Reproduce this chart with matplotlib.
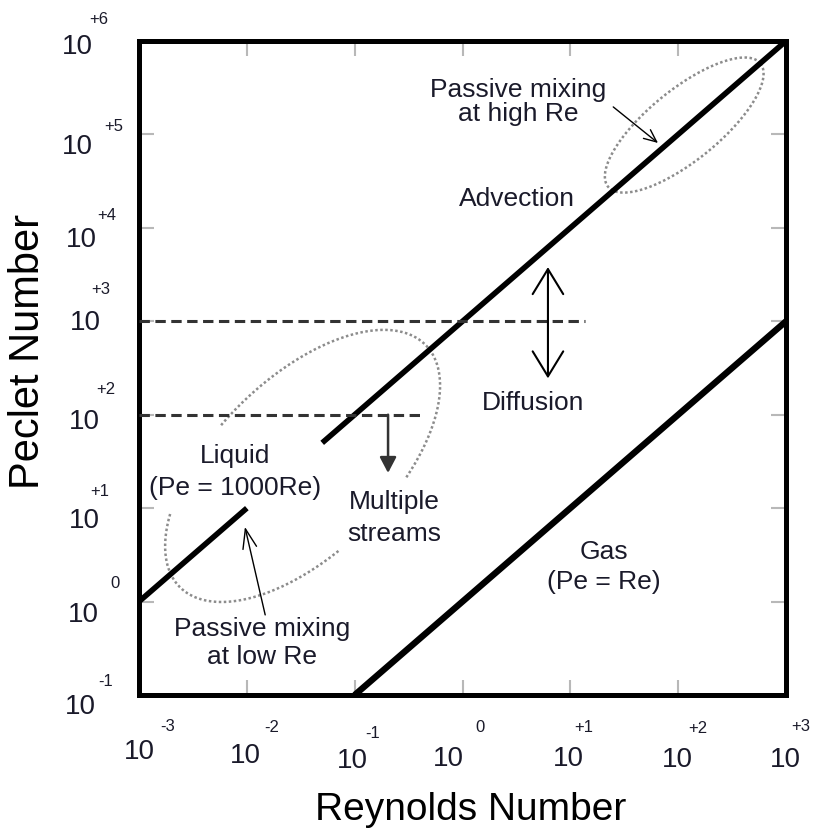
import numpy as np
import matplotlib.pyplot as plt

plt.rcParams['font.family'] = ['Liberation Sans', 'DejaVu Sans']

# decades on both axes
re_exponents = [-3, -2, -1, 0, 1, 2, 3]
re_exp_labels = ['-3', '-2', '-1', '0', '+1', '+2', '+3']
pe_exponents = [-1, 0, 1, 2, 3, 4, 5, 6]
pe_exp_labels = ['-1', '0', '+1', '+2', '+3', '+4', '+5', '+6']

# liquid line, Pe = 1000 Re (broken where the label sits)
liquid_re_low = [1e-3, 1e-2]
liquid_pe_low = [1e0, 1e1]
liquid_re_high = [0.05, 1e3]
liquid_pe_high = [50.0, 1e6]

# gas line, Pe = Re
gas_re = [0.1, 1e3]
gas_pe = [0.1, 1e3]

# dashed Pe levels and where they stop
dash_pe = [1e3, 1e2]
dash_re_end = [13.7, 0.42]

# tick label offsets in pixels: (dx, dy down) of "10" and of the exponent
re_ten_off = [(0, 54), (-1, 58), (-2, 63), (-14, 61), (-2, 61), (-1, 62), (-1, 62)]
re_sup_off = [(29, 30), (25, 31), (18, 37), (18, 31), (13, 31), (20, 32), (15, 30)]
pe_ten_off = [(-59, 9), (-56, 10), (-55, 10), (-55, 4), (-54, -1), (-58, 9), (-62, 10), (-62, 3)]
pe_sup_off = [(-33, -15), (-24, -20), (-39, -18), (-33, -27), (-38, -33), (-32, -14), (-25, -9), (-40, -23)]

TXT = '#1a1a2a'


def dotted_ellipse(ax, center, width, height, angle, arcs):
    # ellipse given in screen pixels around a data point, drawn as dotted arcs
    cx, cy = ax.transData.transform(center)
    th = np.radians(angle)
    for t0, t1 in arcs:
        t = np.radians(np.linspace(t0, t1, 300))
        u = width / 2 * np.cos(t)
        v = height / 2 * np.sin(t)
        px = cx + u * np.cos(th) - v * np.sin(th)
        py = cy + u * np.sin(th) + v * np.cos(th)
        pts = ax.transData.inverted().transform(np.column_stack([px, py]))
        ax.plot(pts[:, 0], pts[:, 1], color='#8c8c8c', lw=1.8, dashes=(1, 1), zorder=2)


fig = plt.figure(figsize=(8.15, 8.32), dpi=100)
ax = fig.add_axes([139 / 815, (832 - 695) / 832, 647 / 815, 654 / 832])
ax.set_xscale('log')
ax.set_yscale('log')
ax.set_xlim(1e-3, 1e3)
ax.set_ylim(1e-1, 1e6)
ax.set_xticks([10.0 ** e for e in re_exponents])
ax.set_yticks([10.0 ** e for e in pe_exponents])
ax.minorticks_off()
ax.tick_params(direction='in', length=11, width=1.5, color='#b8b8b8',
               top=True, right=True, labelbottom=False, labelleft=False)
for s in ax.spines.values():
    s.set_linewidth(3.6)
    s.set_color('black')

# main lines
ax.plot(liquid_re_low, liquid_pe_low, color='black', lw=4, solid_capstyle='butt', zorder=3)
ax.plot(liquid_re_high, liquid_pe_high, color='black', lw=4, solid_capstyle='butt', zorder=3)
ax.plot(gas_re, gas_pe, color='black', lw=4.6, solid_capstyle='butt', zorder=3)
for pe, re_end in zip(dash_pe, dash_re_end):
    ax.plot([1e-3, re_end], [pe, pe], color='#333333', lw=2.2, dashes=(3.4, 1.8), zorder=3)

# dotted regions
dotted_ellipse(ax, (113.8, 1.26e5), 196, 71, 39, [(0, 360)])
dotted_ellipse(ax, (0.0329, 28.3), 345, 175, 44.5, [(138, 259), (292.5, 460.7)])

# arrows
ax.annotate('', xy=(0.204, 23.8), xytext=(0.204, 1e2),
            arrowprops=dict(arrowstyle='-|>,head_length=0.95,head_width=0.5', color='#333333',
                            lw=1.8, shrinkA=0, shrinkB=0, mutation_scale=10))
ax.annotate('', xy=(6.2, 3800), xytext=(6.2, 245),
            arrowprops=dict(arrowstyle='<->,head_length=1.8,head_width=1.1', color='black',
                            lw=1.5, shrinkA=0, shrinkB=0, mutation_scale=10))
ax.annotate('', xy=(65, 8.1e4), xytext=(25, 1.97e5),
            arrowprops=dict(arrowstyle='->,head_length=0.9,head_width=0.4', color='black',
                            lw=1, shrinkA=0, shrinkB=0, mutation_scale=10))
ax.annotate('', xy=(0.0096, 6.3), xytext=(0.0148, 0.72),
            arrowprops=dict(arrowstyle='->,head_length=1.4,head_width=0.5', color='black',
                            lw=1, shrinkA=0, shrinkB=0, mutation_scale=10))

# region labels
ax.text(10 ** 0.516, 10 ** 5.35, 'Passive mixing\nat high Re', ha='center', va='center',
        fontsize=19, color=TXT, linespacing=1.0)
ax.text(10 ** 0.507, 10 ** 4.31, 'Advection', ha='center', va='center', fontsize=19, color=TXT)
ax.text(10 ** 0.655, 10 ** 2.126, 'Diffusion', ha='center', va='center', fontsize=19, color=TXT)
ax.text(10 ** 1.313, 10 ** 0.37, 'Gas\n(Pe = Re)', ha='center', va='center', fontsize=19,
        color=TXT, linespacing=1.35)
ax.text(10 ** -2.11, 10 ** 1.39, 'Liquid\n(Pe = 1000Re)', ha='center', va='center', fontsize=19,
        color=TXT, linespacing=1.4)
ax.text(10 ** -0.635, 10 ** 0.895, 'Multiple\nstreams', ha='center', va='center', fontsize=19,
        color=TXT, linespacing=1.4)
ax.text(10 ** -1.86, 10 ** -0.443, 'Passive mixing\nat low Re', ha='center', va='center',
        fontsize=19, color=TXT, linespacing=1.25)

# hand placed tick labels, 10 with a raised exponent
for e, lab, (dx, dy), (sx, sy) in zip(re_exponents, re_exp_labels, re_ten_off, re_sup_off):
    ax.annotate('10', xy=(10.0 ** e, 0), xycoords=('data', 'axes fraction'),
                xytext=(dx, -dy - 10), textcoords='offset pixels', ha='center', va='baseline',
                fontsize=20, color=TXT, annotation_clip=False)
    ax.annotate(lab, xy=(10.0 ** e, 0), xycoords=('data', 'axes fraction'),
                xytext=(sx, -sy - 6), textcoords='offset pixels', ha='center', va='baseline',
                fontsize=12, color=TXT, annotation_clip=False)
for e, lab, (dx, dy), (sx, sy) in zip(pe_exponents, pe_exp_labels, pe_ten_off, pe_sup_off):
    ax.annotate('10', xy=(0, 10.0 ** e), xycoords=('axes fraction', 'data'),
                xytext=(dx, -dy - 10), textcoords='offset pixels', ha='center', va='baseline',
                fontsize=20, color=TXT, annotation_clip=False)
    ax.annotate(lab, xy=(0, 10.0 ** e), xycoords=('axes fraction', 'data'),
                xytext=(sx, -sy - 6), textcoords='offset pixels', ha='center', va='baseline',
                fontsize=12, color=TXT, annotation_clip=False)

fig.text(471 / 815, (832 - 820) / 832, 'Reynolds Number', ha='center', va='baseline',
         fontsize=28, color='black')
fig.text(28 / 815, 1 - 351 / 832, 'Peclet Number', ha='center', va='center', rotation=90,
         fontsize=30, color='black')

fig.savefig('out.png', dpi=100)
